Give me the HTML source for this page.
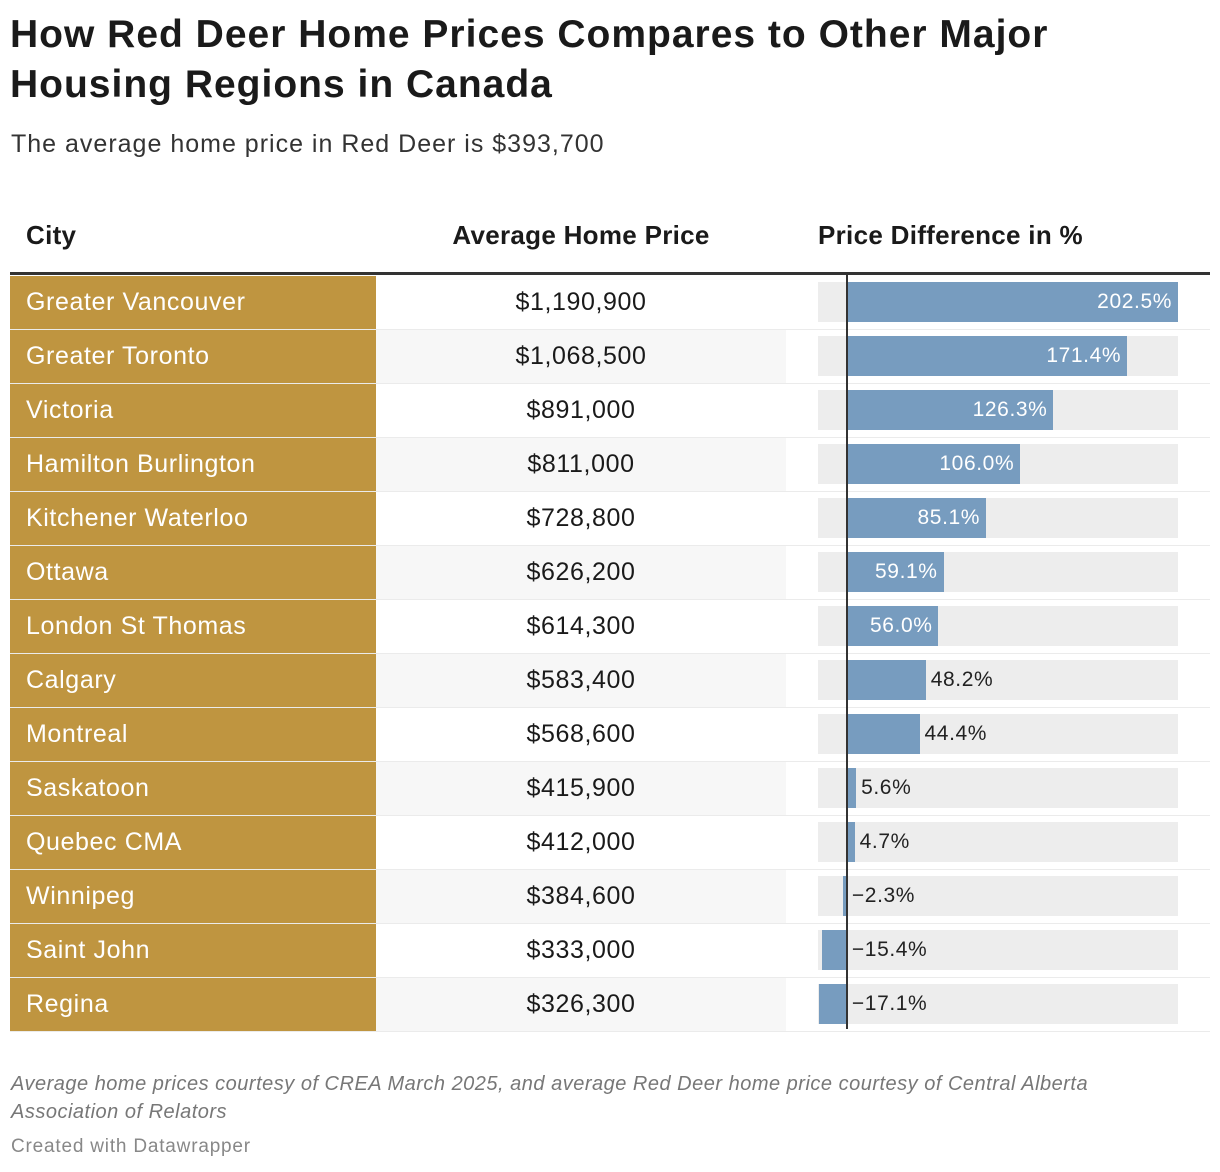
<!DOCTYPE html>
<html><head><meta charset="utf-8"><style>
body{margin:0;width:1220px;height:1172px;background:#fff;font-family:"Liberation Sans",sans-serif;color:#1a1a1a;position:relative;overflow:hidden}
.abs{position:absolute}
h1{position:absolute;left:10px;top:10px;margin:0;font-size:39px;line-height:50px;font-weight:bold;width:1200px;letter-spacing:1px}
.sub{left:11px;top:130px;font-size:25px;color:#333;letter-spacing:1px}
.th{top:220px;font-size:26px;font-weight:bold;letter-spacing:0.3px}
.cell{position:absolute;height:53px;line-height:53px;font-size:25px;letter-spacing:0.6px}
.foot{left:11px;top:1070px;font-size:20px;font-style:italic;color:#777;width:1200px;line-height:28px;letter-spacing:0.5px}
.cred{left:11px;top:1136px;font-size:19px;color:#888;letter-spacing:0.8px}
</style></head><body>
<h1>How Red Deer Home Prices Compares to Other Major<br>Housing Regions in Canada</h1>
<div class="abs sub">The average home price in Red Deer is $393,700</div>
<div class="abs th" style="left:26px">City</div>
<div class="abs th" style="left:376px;width:410px;text-align:center">Average Home Price</div>
<div class="abs th" style="left:818px">Price Difference in %</div>
<div class="abs" style="left:10px;top:272px;width:1200px;height:3px;background:#333"></div>
<div id="rows"></div>
<div class="abs foot">Average home prices courtesy of CREA March 2025, and average Red Deer home price courtesy of Central Alberta<br>Association of Relators</div>
<div class="abs cred">Created with Datawrapper</div>
<script>
const cities=["Greater Vancouver","Greater Toronto","Victoria","Hamilton Burlington","Kitchener Waterloo","Ottawa","London St Thomas","Calgary","Montreal","Saskatoon","Quebec CMA","Winnipeg","Saint John","Regina"];
const prices=["$1,190,900","$1,068,500","$891,000","$811,000","$728,800","$626,200","$614,300","$583,400","$568,600","$415,900","$412,000","$384,600","$333,000","$326,300"];
const diffs=[202.5,171.4,126.3,106.0,85.1,59.1,56.0,48.2,44.4,5.6,4.7,-2.3,-15.4,-17.1];
const domainMin=-17.7,domainMax=202.5,x0=818,x1=1178;
function xs(v){return x0+(v-domainMin)/(domainMax-domainMin)*(x1-x0);}
const root=document.getElementById('rows');
const top0=276,rh=54;
cities.forEach((c,i)=>{
  const y=top0+i*rh;
  const row=document.createElement('div');
  row.className='abs';row.style.cssText=`left:10px;top:${y}px;width:1200px;height:${rh}px`;
  
  
  const alt=i%2===1;
  row.innerHTML=`<div class="abs" style="left:0;top:0;width:366px;height:${rh}px;background:#bf9540"></div>
  <div class="abs" style="left:366px;top:0;width:410px;height:${rh}px;background:${alt?'#f7f7f7':'#fff'}"></div>
  <div class="abs" style="left:0;top:${rh-1}px;width:1200px;height:1px;background:#ebebeb"></div>`;
  root.appendChild(row);
  const cn=document.createElement('div');cn.className='cell';cn.textContent=c;
  cn.style.cssText+=`left:26px;top:${y}px;color:#fff`;
  
  
  root.appendChild(cn);
  const pr=document.createElement('div');pr.className='cell';pr.textContent=prices[i];
  pr.style.cssText+=`left:376px;width:410px;text-align:center;top:${y}px`;
  
  
  root.appendChild(pr);
  const tr=document.createElement('div');tr.className='abs';
  tr.style.cssText=`left:${x0}px;top:${y+6}px;width:${x1-x0}px;height:40px;background:#ededed`;
  
  
  root.appendChild(tr);
  const v=diffs[i],z=xs(0),xv=xs(v);
  const b=document.createElement('div');b.className='abs';
  b.style.cssText=`left:${Math.min(z,xv)}px;top:${y+6}px;width:${Math.abs(xv-z)}px;height:40px;background:#779cbf`;
  
  
  root.appendChild(b);
  const lab=document.createElement('div');lab.className='abs';
  const txt=(v<0?'\u2212':'')+Math.abs(v).toFixed(1)+'%';
  lab.textContent=txt;
  const inside=v>55;
  if(inside){lab.style.cssText=`right:${1220-xv+6}px;top:${y+6}px;line-height:40px;font-size:21px;color:#fff;letter-spacing:0.6px`;}
  else{lab.style.cssText=`left:${Math.max(z,xv)+5}px;top:${y+6}px;line-height:40px;font-size:21px;color:#222;letter-spacing:0.6px`;}
  
  
  root.appendChild(lab);
});
const ax=document.createElement('div');ax.className='abs';
ax.style.cssText=`left:${xs(0)-1}px;top:275px;width:2px;height:${cities.length*rh-2}px;background:#333`;


root.appendChild(ax);
</script>
</body></html>
